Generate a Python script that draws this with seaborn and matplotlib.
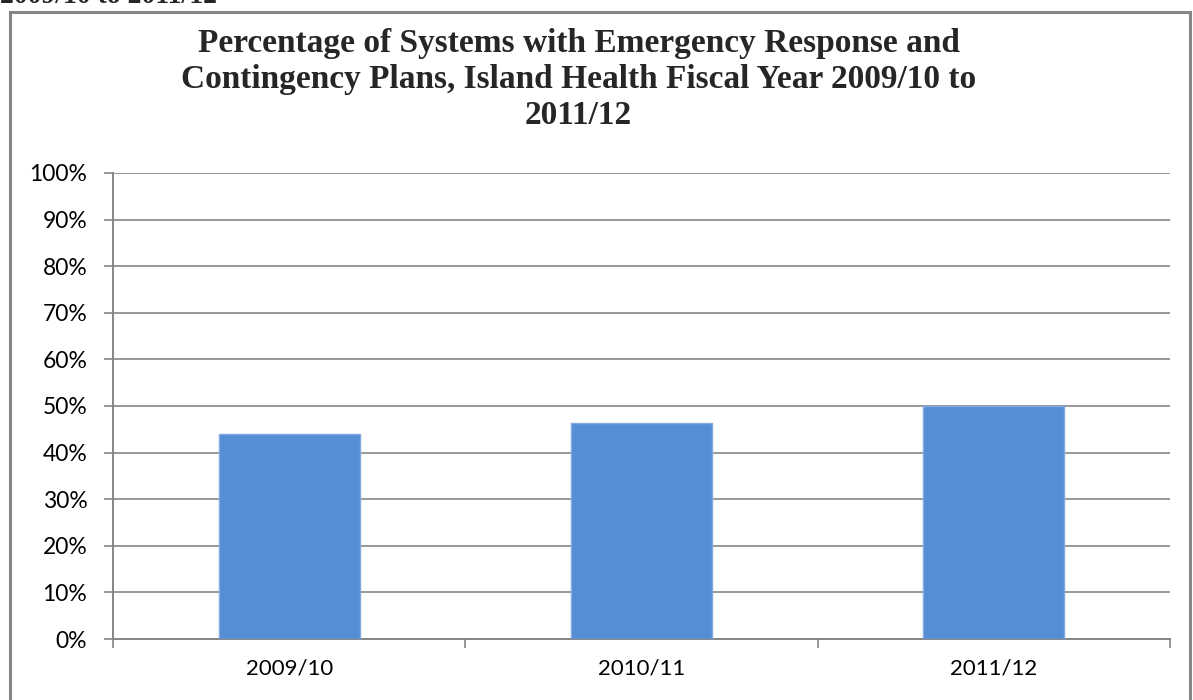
import matplotlib
matplotlib.use("Agg")
import matplotlib.pyplot as plt
import matplotlib.patches as patches
from matplotlib.ticker import FuncFormatter
import pandas as pd
import seaborn as sns

# Datos
years = ["2009/10", "2010/11", "2011/12"]
pct_with_plans = [43.9, 46.4, 50.1]
y_ticks = list(range(0, 101, 10))

title = ("Percentage of Systems with Emergency Response and\n"
         "Contingency Plans, Island Health Fiscal Year 2009/10 to\n"
         "2011/12")

df = pd.DataFrame({"year": years, "pct": pct_with_plans})

sns.set_theme(style="white")
plt.rcParams["font.family"] = ["Lato", "DejaVu Sans"]

fig = plt.figure(figsize=(11.93, 7.0), dpi=100)
ax = fig.add_axes([0.0947, 0.0871, 0.886, 0.6658])

sns.barplot(data=df, x="year", y="pct", color="#558ED5", width=0.4,
            saturation=1, ax=ax, zorder=3, edgecolor="#7FA9E0", linewidth=1)

ax.set_ylim(0, 100)
ax.set_xlim(-0.5, 2.5)
ax.set_yticks(y_ticks)
ax.yaxis.set_major_formatter(FuncFormatter(lambda v, p: f"{int(v)}%"))
ax.yaxis.grid(True, color="#868686", linewidth=1.2, zorder=0)
ax.set_axisbelow(True)
ax.set_xlabel("")
ax.set_ylabel("")

# ticks entre categorías en el eje x
ax.set_xticks([-0.5, 0.5, 1.5, 2.5], minor=False)
ax.set_xticklabels([])
ax.set_xticks([0, 1, 2], minor=True)
ax.set_xticklabels(years, minor=True)
ax.tick_params(axis="x", which="major", length=6.5, width=1.2, color="#868686",
               direction="out", bottom=True)
ax.tick_params(axis="x", which="minor", length=0, labelsize=16, pad=14,
               labelcolor="black")
ax.tick_params(axis="y", length=6.5, width=1.2, color="#868686", direction="out",
               left=True, labelsize=16.5, pad=12, labelcolor="black")

for side in ["top", "right"]:
    ax.spines[side].set_visible(False)
for side in ["left", "bottom"]:
    ax.spines[side].set_color("#868686")
    ax.spines[side].set_linewidth(1.4)

fig.text(0.485, 0.96, title, ha="center", va="top", fontsize=24,
         fontweight="bold", family=["Liberation Serif", "DejaVu Serif"],
         linespacing=1.2)

# texto cortado en la parte superior (como en la imagen original)
fig.text(0.0, 1 - 3 / 700, "2009/10 to 2011/12", ha="left", va="baseline",
         fontsize=20, fontweight="bold", family=["Liberation Serif", "DejaVu Serif"])

# marco del gráfico
frame = patches.Rectangle((10 / 1193, -0.05), (1190 - 10) / 1193, 1.05 - 12 / 700,
                          transform=fig.transFigure, fill=False,
                          edgecolor="#868686", linewidth=2.2, clip_on=False)
fig.patches.append(frame)

fig.savefig("out.png", dpi=100)
